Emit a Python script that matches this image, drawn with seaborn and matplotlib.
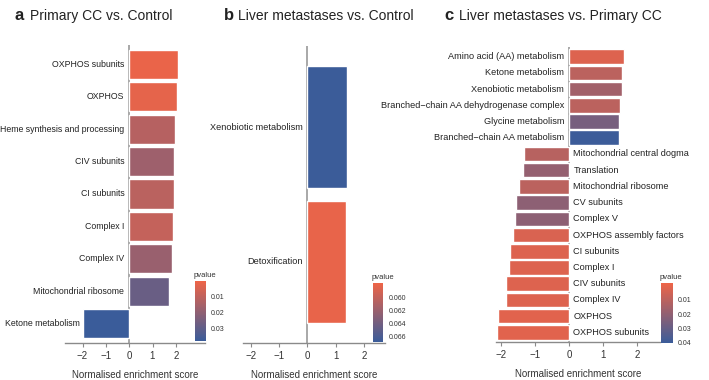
import numpy as np
import pandas as pd
import matplotlib
matplotlib.use("Agg")
import matplotlib.pyplot as plt
import seaborn as sns
from matplotlib.colors import LinearSegmentedColormap, Normalize
from matplotlib.cm import ScalarMappable

# data
a_terms = ["OXPHOS subunits", "OXPHOS", "Heme synthesis and processing", "CIV subunits",
           "CI subunits", "Complex I", "Complex IV", "Mitochondrial ribosome", "Ketone metabolism"]
a_nes = [2.11, 2.07, 1.97, 1.93, 1.92, 1.87, 1.83, 1.70, -1.98]
a_pval = [0.001, 0.002, 0.012, 0.017, 0.011, 0.009, 0.018, 0.028, 0.038]

b_terms = ["Xenobiotic metabolism", "Detoxification"]
b_nes = [1.39, 1.37]
b_pval = [0.0668, 0.0581]

c_terms = ["Amino acid (AA) metabolism", "Ketone metabolism", "Xenobiotic metabolism",
           "Branched\u2212chain AA dehydrogenase complex", "Glycine metabolism",
           "Branched\u2212chain AA metabolism", "Mitochondrial central dogma", "Translation",
           "Mitochondrial ribosome", "CV subunits", "Complex V", "OXPHOS assembly factors",
           "CI subunits", "Complex I", "CIV subunits", "Complex IV", "OXPHOS", "OXPHOS subunits"]
c_nes = [1.63, 1.55, 1.55, 1.50, 1.48, 1.46, -1.33, -1.35, -1.47, -1.57, -1.59, -1.65,
         -1.75, -1.79, -1.87, -1.87, -2.09, -2.13]
c_pval = [0.002, 0.010, 0.016, 0.010, 0.026, 0.040, 0.011, 0.019, 0.010, 0.021, 0.021, 0.003,
          0.002, 0.002, 0.002, 0.002, 0.001, 0.001]

titles = [("a", "Primary CC vs. Control"), ("b", "Liver metastases vs. Control"),
          ("c", "Liver metastases vs. Primary CC")]

sns.set_theme(style="white")
plt.rcParams["font.family"] = ["Liberation Sans", "DejaVu Sans"]

cmap = LinearSegmentedColormap.from_list("pv", ["#EE6447", "#3A5C9A"])
W, H = 709, 380
fig = plt.figure(figsize=(W / 100, H / 100), dpi=100)


def box(l, r, t, b):
    return [l / W, (H - b) / H, (r - l) / W, (b - t) / H]


def panel(terms, nes, pval, pos, xlim, vmin, vmax, cbpos, cbticks, cbfmt, neg_left, fs):
    ax = fig.add_axes(box(*pos))
    norm = Normalize(vmin, vmax)
    df = pd.DataFrame({"term": terms, "nes": nes, "pval": pval})
    pal = {t: cmap(norm(p)) for t, p in zip(terms, pval)}
    sns.barplot(data=df, x="nes", y="term", hue="term", palette=pal, legend=False,
                orient="h", width=0.9, saturation=1, ax=ax, order=terms)
    ax.set_xlim(*xlim)
    ax.set_ylim(len(terms) - 0.4, -0.6)
    ax.axvline(0, color="#9a9a9a", lw=1.2, zorder=0)
    for sp in ["top", "right", "left"]:
        ax.spines[sp].set_visible(False)
    ax.spines["bottom"].set_color("#8a8a8a")
    ax.spines["bottom"].set_linewidth(1)
    ax.set_yticks([])
    ax.set_ylabel("")
    ax.set_xticks([-2, -1, 0, 1, 2])
    ax.set_xticklabels(["\u22122", "\u22121", "0", "1", "2"])
    ax.tick_params(axis="x", bottom=True, length=3, width=0.8, color="#8a8a8a",
                   labelsize=7, pad=3, labelcolor="#333333")
    ax.set_xlabel("Normalised enrichment score", fontsize=7, color="#333333", labelpad=6)
    for i, (t, v) in enumerate(zip(terms, nes)):
        if v >= 0:
            ax.annotate(t, (0, i), xytext=(-3.5, 0), textcoords="offset points",
                        ha="right", va="center", fontsize=fs, color="#222222",
                        annotation_clip=False)
        elif neg_left:
            ax.annotate(t, (v, i), xytext=(-2.5, 0), textcoords="offset points",
                        ha="right", va="center", fontsize=fs, color="#222222",
                        annotation_clip=False)
        else:
            ax.annotate(t, (0, i), xytext=(3, 0), textcoords="offset points",
                        ha="left", va="center", fontsize=fs, color="#222222",
                        annotation_clip=False)
    cax = fig.add_axes(box(*cbpos))
    cb = fig.colorbar(ScalarMappable(norm=norm, cmap=cmap), cax=cax)
    cax.invert_yaxis()
    cb.outline.set_visible(False)
    cb.set_ticks(cbticks)
    cb.set_ticklabels([cbfmt.format(v) for v in cbticks])
    cax.tick_params(length=2.5, width=0.8, color="white", direction="in", labelsize=5,
                    pad=4, labelcolor="#333333")
    cax.text(-0.1, 1.04, "pvalue", transform=cax.transAxes, fontsize=5.5,
             color="#333333", ha="left", va="bottom")
    return ax


panel(a_terms, a_nes, a_pval, (65, 205, 45, 343), (-2.75, 3.25), 0.0, 0.038,
      (195, 205.5, 281, 341), [0.01, 0.02, 0.03], "{:.2f}", True, 6.3)
panel(b_terms, b_nes, b_pval, (243, 385, 46, 343), (-2.28, 2.74), 0.0578, 0.0669,
      (372.5, 383.5, 283, 342), [0.060, 0.062, 0.064, 0.066], "{:.3f}", False, 6.6)
panel(c_terms, c_nes, c_pval, (496, 660, 47, 342), (-2.16, 2.68), -0.002, 0.0405,
      (660.5, 672.5, 283, 343), [0.01, 0.02, 0.03, 0.04], "{:.2f}", False, 6.6)

for (letter, title), (xl, xt) in zip(titles, [(15, 30), (224, 238), (444, 459)]):
    fig.text(xl / W, 1 - 20 / H, letter, fontsize=12, fontweight="bold", ha="left",
             va="baseline", color="#222222")
    fig.text(xt / W, 1 - 20 / H, title, fontsize=10, ha="left", va="baseline",
             color="#222222")

fig.savefig("out.png", dpi=100)
